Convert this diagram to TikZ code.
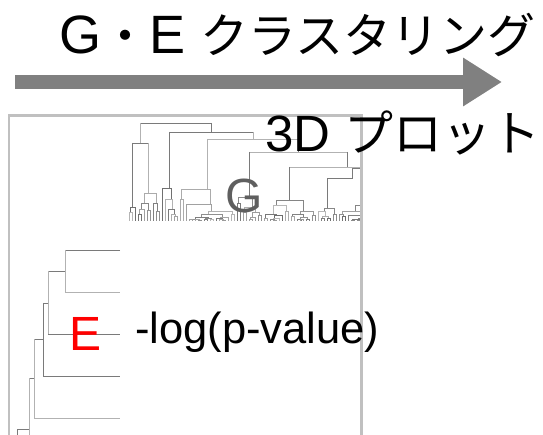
\documentclass[tikz,border=0pt]{standalone}
\usepackage{fontspec}
\setmainfont{Liberation Sans}
\newfontfamily\cjk{Noto Sans CJK JP}
\usetikzlibrary{arrows.meta}
\definecolor{arrowgray}{HTML}{808080}
\definecolor{framegray}{HTML}{C0C0C0}
\definecolor{labelgray}{HTML}{5F5F5F}

% Random sub-dendrogram over the leaves #1..#2 (leaf pitch 3), joined by a bar at height #3
\newcommand\dtree[3]{%
  \begingroup
  \edef\da{#1}\edef\db{#2}\edef\dtop{#3}%
  \pgfmathtruncatemacro\dn{round((\db-\da)/3)}%
  \pgfmathtruncatemacro\dk{min(floor(rnd*\dn),\dn-1)}%
  \pgfmathsetmacro\ds{\da+3*\dk}%
  \pgfmathsetmacro\dt{\ds+3}%
  \pgfmathsetmacro\dlm{(\da+\ds)/2}%
  \pgfmathsetmacro\drm{(\dt+\db)/2}%
  \pgfmathtruncatemacro\dsh{28+30*rnd}%
  \ifnum\dk=0 \def\dtl{221}\else\pgfmathsetmacro\dtl{\dtop+(221-\dtop)*(0.25+0.35*rnd)}\fi
  \ifnum\dk=\numexpr\dn-1\relax \def\dtr{221}\else\pgfmathsetmacro\dtr{\dtop+(221-\dtop)*(0.25+0.35*rnd)}\fi
  \draw[branch, draw=black!\dsh] (\dlm,\dtl) -- (\dlm,\dtop) -- (\drm,\dtop) -- (\drm,\dtr);
  \ifnum\dk>0 \edef\next{\noexpand\dtree{\da}{\ds}{\dtl}}\next\fi
  \ifnum\dk<\numexpr\dn-1\relax \edef\next{\noexpand\dtree{\dt}{\db}{\dtr}}\next\fi
  \endgroup}

\begin{document}
\begin{tikzpicture}[x=1pt, y=-1pt,
  branch/.style={line width=0.9pt},
  dkb/.style={branch, draw=black!52},
  ltb/.style={branch, draw=black!30},
  frame/.style={draw=framegray, line width=2.5pt},
  bigtext/.style={inner sep=0pt, anchor=base west}]
\useasboundingbox (0,0) rectangle (543,435);
\pgfmathsetseed{11}

% flow arrow
\coordinate (flowstart) at (15,82);
\coordinate (flowend) at (502,82);
\draw[arrowgray, line width=14pt, -{Triangle[length=39pt,width=46pt]}] (flowstart) -- (flowend);

% gene dendrogram (top)
\begin{scope}
  \clip (115,118) rectangle (361,224);
  \draw[dkb] (140.25,123) -- (211.25,123);
  \draw[ltb] (140.25,123) -- (140.25,143);
  \draw[dkb] (211.25,123) -- (211.25,132);
  \draw[dkb] (132,143) -- (148.5,143);
  \draw[dkb] (132,143) -- (132,207);
  \draw[ltb] (148.5,143) -- (148.5,193);
  \dtree{129}{135}{207}
  \dtree{138}{159}{193}
  \draw[dkb] (169.5,132) -- (253,132);
  \draw[dkb] (169.5,132) -- (169.5,188);
  \dtree{162}{177}{188}
  \draw[ltb] (253,132) -- (253,139);
  \draw[ltb] (207,139) -- (298,139);
  \draw[ltb] (207,139) -- (207,189);
  \dtree{180}{234}{189}
  \draw[dkb] (298,139) -- (298,152);
  \draw[ltb] (249,152) -- (347,152);
  \draw[dkb] (249,152) -- (249,197);
  \dtree{237}{261}{197}
  \draw[dkb] (347,152) -- (347,167);
  \draw[ltb] (289.5,167) -- (404,167);
  \draw[dkb] (289.5,167) -- (289.5,200);
  \dtree{264}{315}{200}
  \draw[dkb] (327,208) -- (327,178) -- (352,178) -- (352,168.5) -- (380,168.5);
  \dtree{318}{336}{208}
  \draw[ltb] (360,168.5) -- (360,205);
  \dtree{339}{381}{205}
\end{scope}

% experiment dendrogram (left)
\draw[dkb] (120,250) -- (65,250);
\draw[ltb] (65,250) -- (65,292) -- (120,292);
\draw[dkb] (65,271) -- (48,271);
\draw[ltb] (48,271) -- (48,334);
\draw[dkb] (48,334) -- (120,334);
\draw[dkb] (48,303) -- (43,303);
\draw[dkb] (43,303) -- (43,376) -- (120,376);
\draw[dkb] (43,339) -- (34,339);
\draw[ltb] (34,339) -- (34,418) -- (120,418);
\draw[dkb] (34,378) -- (29,378);
\draw[ltb] (29,378) -- (29,440);
\draw[dkb] (29,429) -- (17,429) -- (17,440);

% plot frame, open at the bottom
\draw[frame] (9,440) -- (9,115.5) -- (361.5,115.5) -- (361.5,440);

% labels
\node[bigtext] (title) at (59,54)
  {\fontsize{54}{60}\selectfont G{\cjk\fontsize{48}{48}\selectfont ・}E\ {\cjk\fontsize{48}{48}\selectfont クラスタリング}};
\node[bigtext] (plot) at (265,152)
  {\fontsize{51}{60}\selectfont 3D\ {\cjk\fontsize{49}{49}\selectfont プロット}};
\node[bigtext, text=labelgray] (glab) at (225,212.5) {\fontsize{48}{48}\selectfont G};
\node[bigtext, text=red] (elab) at (69,350) {\fontsize{48}{48}\selectfont E};
\node[bigtext] (pval) at (135,343) {\fontsize{43.5}{44}\selectfont -log(p-value)};
\end{tikzpicture}
\end{document}
